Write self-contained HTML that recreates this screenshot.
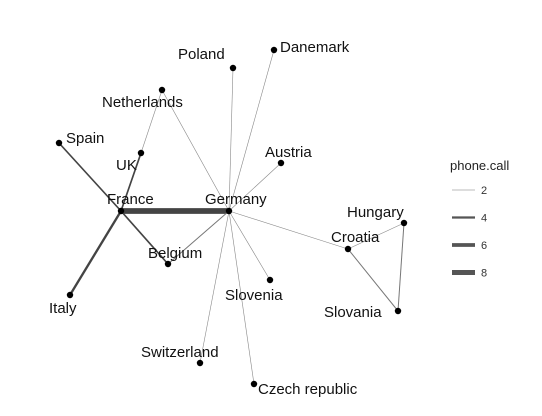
<!DOCTYPE html>
<html><head><meta charset="utf-8"><style>
body{margin:0;background:#fff}
svg{display:block;font-family:"Liberation Sans",sans-serif}
</style></head><body>
<svg id="chart" width="542" height="416">
<g id="edges"></g>
<g id="nodes"></g>
<g id="legend"></g>
</svg>
<script>
const nodeNames=["Danemark","Poland","Netherlands","Austria","Spain","UK","France","Germany","Belgium","Slovenia","Italy","Switzerland","Czech republic","Hungary","Croatia","Slovania"];
const nodeX=[274,233,162,281,59,141,121,229,168,270,70,200,254,404,348,398];
const nodeY=[50,68,90,163,143,153,211,211,264,280,295,363,384,223,249,311];
const labelDX=[6,-55,-60,-16,7,-25,-14,-24,-20,-45,-21,-59,4,-57,-17,-74];
const labelDY=[2,-9,17,-6,0,17,-7,-7,-6,20,18,-6,10,-6,-7,6];
const edgeFrom=["France","France","France","France","France","UK","Netherlands","Poland","Danemark","Austria","Belgium","Slovenia","Switzerland","Czech republic","Croatia","Croatia","Croatia","Hungary"];
const edgeTo=["Germany","Italy","Spain","Belgium","UK","Netherlands","Germany","Germany","Germany","Germany","Germany","Germany","Germany","Germany","Germany","Hungary","Slovania","Slovania"];
const edgeVal=[9,4,3,3,3,1,1,1,1,1,2,1,1,1,1,1,2,2];
const legendVals=[2,4,6,8];
const NS="http://www.w3.org/2000/svg";
function w(v){return Math.max(0.6,1+(v-2)*4/6);}
function col(v){return v<=1?"#888":(v<=2?"#777":"#444");}
const eg=document.getElementById("edges"),ng=document.getElementById("nodes"),lg=document.getElementById("legend");
edgeFrom.forEach((f,i)=>{
 const a=nodeNames.indexOf(f),b=nodeNames.indexOf(edgeTo[i]);
 const l=document.createElementNS(NS,"line");
 l.setAttribute("x1",nodeX[a]);l.setAttribute("y1",nodeY[a]);
 l.setAttribute("x2",nodeX[b]);l.setAttribute("y2",nodeY[b]);
 l.setAttribute("stroke",col(edgeVal[i]));l.setAttribute("stroke-width",w(edgeVal[i]));
 
 
 eg.appendChild(l);
});
nodeNames.forEach((n,i)=>{
 const c=document.createElementNS(NS,"circle");
 c.setAttribute("cx",nodeX[i]);c.setAttribute("cy",nodeY[i]);c.setAttribute("r",3.2);c.setAttribute("fill","#000");
 
 
 ng.appendChild(c);
 const t=document.createElementNS(NS,"text");
 t.setAttribute("x",nodeX[i]+labelDX[i]);t.setAttribute("y",nodeY[i]+labelDY[i]);
 t.setAttribute("font-size","15");t.setAttribute("fill","#111");
 t.textContent=n;
 
 
 ng.appendChild(t);
});
const tt=document.createElementNS(NS,"text");
tt.setAttribute("x",450);tt.setAttribute("y",170);tt.setAttribute("font-size","13");tt.setAttribute("fill","#222");
tt.textContent="phone.call";


lg.appendChild(tt);
legendVals.forEach((v,i)=>{
 const y=190+i*27.5;
 const l=document.createElementNS(NS,"line");
 l.setAttribute("x1",452);l.setAttribute("x2",475);l.setAttribute("y1",y);l.setAttribute("y2",y);
 l.setAttribute("stroke",v==2?"#bbb":"#555");l.setAttribute("stroke-width",w(v));
 
 
 lg.appendChild(l);
 const t=document.createElementNS(NS,"text");
 t.setAttribute("x",481);t.setAttribute("y",y+4);t.setAttribute("font-size","11");t.setAttribute("fill","#333");
 t.textContent=v;
 
 
 lg.appendChild(t);
});
</script>
</body></html>
